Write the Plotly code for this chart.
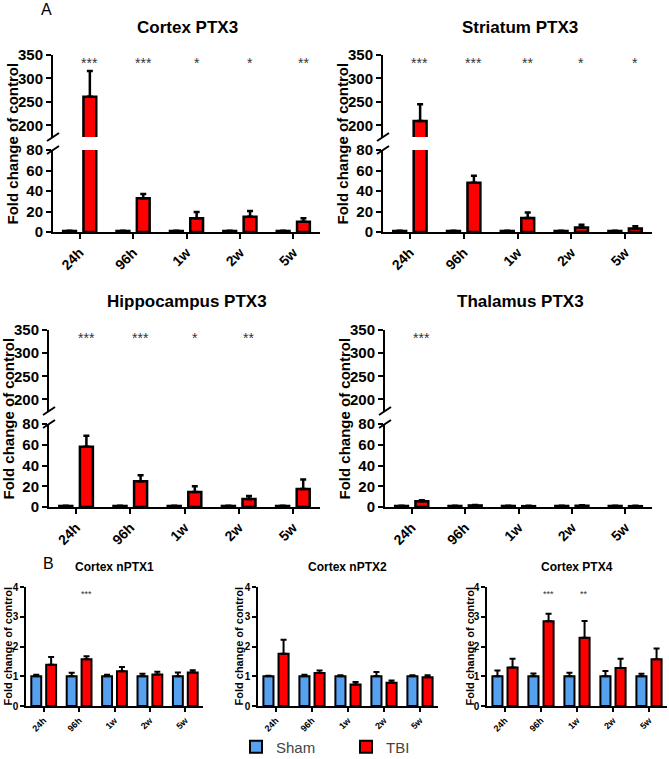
import plotly.graph_objects as go

W, H = 669, 759

TIMEPOINTS = ["24h", "96h", "1w", "2w", "5w"]

# panel A: PTX3 fold change (broken y axis), TBI mean + upper SEM
CORTEX_PTX3_SHAM = [1.0, 1.0, 1.0, 1.0, 1.0]
CORTEX_PTX3_TBI = [261, 33, 13.5, 15, 10]
CORTEX_PTX3_TBI_ERR = [55, 4, 6, 5.5, 3.3]
CORTEX_PTX3_STARS = ["***", "***", "*", "*", "**"]

STRIATUM_PTX3_SHAM = [1.0, 1.0, 1.0, 1.0, 1.0]
STRIATUM_PTX3_TBI = [209, 48, 13.6, 4.5, 3.5]
STRIATUM_PTX3_TBI_ERR = [36, 7, 5.4, 2.5, 2]
STRIATUM_PTX3_STARS = ["***", "***", "**", "*", "*"]

HIPPOCAMPUS_PTX3_SHAM = [1.0, 1.0, 1.0, 1.0, 1.0]
HIPPOCAMPUS_PTX3_TBI = [58, 24.8, 14.5, 7.7, 17.4]
HIPPOCAMPUS_PTX3_TBI_ERR = [10.7, 5.8, 5.5, 2.9, 9.1]
HIPPOCAMPUS_PTX3_STARS = ["***", "***", "*", "**", ""]

THALAMUS_PTX3_SHAM = [1.0, 1.0, 1.0, 1.0, 1.0]
THALAMUS_PTX3_TBI = [5.5, 1.5, 0.8, 1.2, 0.8]
THALAMUS_PTX3_TBI_ERR = [1.0, 0.5, 0.3, 0.6, 0.3]
THALAMUS_PTX3_STARS = ["***", "", "", "", ""]

# panel B: cortex nPTX1 / nPTX2 / PTX4
NPTX1_SHAM = [1.0, 1.0, 1.0, 1.0, 1.0]
NPTX1_SHAM_ERR = [0.05, 0.12, 0.05, 0.08, 0.13]
NPTX1_TBI = [1.39, 1.57, 1.17, 1.06, 1.13]
NPTX1_TBI_ERR = [0.26, 0.10, 0.14, 0.09, 0.07]
NPTX1_STARS = ["", "***", "", "", ""]

NPTX2_SHAM = [1.0, 1.0, 1.0, 1.0, 1.0]
NPTX2_SHAM_ERR = [0.02, 0.05, 0.03, 0.14, 0.03]
NPTX2_TBI = [1.76, 1.11, 0.72, 0.78, 0.97]
NPTX2_TBI_ERR = [0.47, 0.08, 0.09, 0.08, 0.06]
NPTX2_STARS = ["", "", "", "", ""]

PTX4_SHAM = [1.0, 1.0, 1.0, 1.0, 1.0]
PTX4_SHAM_ERR = [0.19, 0.09, 0.12, 0.18, 0.08]
PTX4_TBI = [1.29, 2.85, 2.29, 1.28, 1.57]
PTX4_TBI_ERR = [0.30, 0.25, 0.57, 0.31, 0.36]
PTX4_STARS = ["", "***", "**", "", ""]

SHAM_COLOR = "#55a0ef"
TBI_COLOR = "#ff0000"
FONT = "Liberation Sans"

BROKEN_PANELS = [
    ("Cortex PTX3", CORTEX_PTX3_SHAM, CORTEX_PTX3_TBI, CORTEX_PTX3_TBI_ERR, CORTEX_PTX3_STARS),
    ("Striatum PTX3", STRIATUM_PTX3_SHAM, STRIATUM_PTX3_TBI, STRIATUM_PTX3_TBI_ERR, STRIATUM_PTX3_STARS),
    ("Hippocampus PTX3", HIPPOCAMPUS_PTX3_SHAM, HIPPOCAMPUS_PTX3_TBI, HIPPOCAMPUS_PTX3_TBI_ERR, HIPPOCAMPUS_PTX3_STARS),
    ("Thalamus PTX3", THALAMUS_PTX3_SHAM, THALAMUS_PTX3_TBI, THALAMUS_PTX3_TBI_ERR, THALAMUS_PTX3_STARS),
]
# pixel geometry: (x left, x right), (upper top, upper bottom, lower top, lower bottom), title centre
BROKEN_GEOM = [
    ((53, 320), (55, 137, 150, 232), (187, 27)),
    ((383, 652), (55, 137, 150, 232), (520, 27)),
    ((49, 320), (330, 411, 424, 507), (187, 301)),
    ((385, 652), (330, 411, 424, 507), (520, 301)),
]

SMALL_PANELS = [
    ("Cortex nPTX1", NPTX1_SHAM, NPTX1_SHAM_ERR, NPTX1_TBI, NPTX1_TBI_ERR, NPTX1_STARS),
    ("Cortex nPTX2", NPTX2_SHAM, NPTX2_SHAM_ERR, NPTX2_TBI, NPTX2_TBI_ERR, NPTX2_STARS),
    ("Cortex PTX4", PTX4_SHAM, PTX4_SHAM_ERR, PTX4_TBI, PTX4_TBI_ERR, PTX4_STARS),
]
SMALL_GEOM = [
    ((26, 203), (587, 706), (114, 567), 7),
    ((258, 438), (587, 706), (347, 567), 238),
    ((487, 667), (587, 706), (577, 567), 469),
]


def fx(px):
    return px / W


def fy(py):
    return 1 - py / H


def akey(prefix, n):
    return f"{prefix}axis" if n == 1 else f"{prefix}axis{n}"


def aref(prefix, n):
    return prefix if n == 1 else f"{prefix}{n}"


def label(px, py, text, size, weight="bold", angle=0, color="black"):
    return dict(
        x=fx(px), y=fy(py), xref="paper", yref="paper", text=text,
        xanchor="center", yanchor="middle", textangle=angle, showarrow=False,
        font=dict(family=FONT, size=size, color=color, weight=weight),
    )


def bar(name, y, err, color, xa, ya, offset, width, line_w, showlegend=False):
    return go.Bar(
        x=TIMEPOINTS,
        y=y,
        name=name,
        xaxis=xa,
        yaxis=ya,
        offset=offset,
        width=width,
        marker=dict(color=color, line=dict(color="black", width=line_w)),
        error_y=dict(
            type="data",
            array=err,
            arrayminus=[0] * len(err),
            symmetric=False,
            color="black",
            thickness=line_w,
            width=3,
        ),
        showlegend=showlegend,
        legendgroup=name,
    )


fig = go.Figure()
layout = {}
annotations = []
shapes = []

axis_line = dict(
    showline=True, linecolor="black", linewidth=2, ticks="outside",
    tickcolor="black", tickwidth=2, showgrid=False, zeroline=False,
)

for k, (title, sham, tbi, tbi_err, stars) in enumerate(BROKEN_PANELS):
    (x0, x1), (ut, ub, lt, lb), (tx, ty) = BROKEN_GEOM[k]
    xn, yl, yu = k + 1, 2 * k + 1, 2 * k + 2
    xa, yla, yua = aref("x", xn), aref("y", yl), aref("y", yu)

    layout[akey("x", xn)] = dict(
        axis_line, domain=[fx(x0), fx(x1)], anchor=yla, type="category",
        range=[-0.5, 4.5], ticklen=5, tickangle=-45,
        tickfont=dict(family=FONT, size=14, color="black", weight="bold"),
    )
    layout[akey("y", yl)] = dict(
        axis_line, domain=[fy(lb), fy(lt)], anchor=xa, range=[0, 80],
        tickvals=[0, 20, 40, 60, 80], ticklen=5,
        tickfont=dict(family=FONT, size=15, color="black", weight="bold"),
    )
    layout[akey("y", yu)] = dict(
        axis_line, domain=[fy(ub), fy(ut)], anchor=xa, range=[175, 350],
        tickvals=[200, 250, 300, 350], ticklen=5,
        tickfont=dict(family=FONT, size=15, color="black", weight="bold"),
    )

    sham_err = [0.2] * len(sham)
    for ya in (yla, yua):
        fig.add_trace(bar("Sham", sham, sham_err, SHAM_COLOR, xa, ya, -0.31, 0.24, 2.5))
        fig.add_trace(bar("TBI", tbi, tbi_err, TBI_COLOR, xa, ya, 0.07, 0.24, 2.5))

    for cat, s in zip(TIMEPOINTS, stars):
        if s:
            annotations.append(dict(
                x=cat, y=333, xref=xa, yref=yua, text=s, showarrow=False,
                xshift=10, yanchor="middle",
                font=dict(family=FONT, size=14, color="#333"),
            ))

    annotations.append(label(tx, ty, title, 17))
    annotations.append(label(x0 - 41, (ut + lb) / 2, "Fold change of control", 15, angle=-90))

    # axis break marks
    for yref_, anchor in ((yua, 0), (yla, 1)):
        shapes.append(dict(
            type="line", xref=f"{xa} domain", yref=f"{yref_} domain",
            xsizemode="pixel", xanchor=0, x0=-6, x1=6,
            ysizemode="pixel", yanchor=anchor, y0=-4, y1=4,
            line=dict(color="black", width=2),
        ))

for m, (title, sham, sham_err, tbi, tbi_err, stars) in enumerate(SMALL_PANELS):
    (x0, x1), (yt, yb), (tx, ty), ytitle_x = SMALL_GEOM[m]
    xn, yn = 5 + m, 9 + m
    xa, ya = aref("x", xn), aref("y", yn)

    layout[akey("x", xn)] = dict(
        axis_line, domain=[fx(x0), fx(x1)], anchor=ya, type="category",
        range=[-0.5, 4.5], ticklen=4, linewidth=1.5, tickwidth=1.5, tickangle=-45,
        tickfont=dict(family=FONT, size=9, color="black", weight="bold"),
    )
    layout[akey("y", yn)] = dict(
        axis_line, domain=[fy(yb), fy(yt)], anchor=xa, range=[0, 4],
        tickvals=[0, 1, 2, 3, 4], ticklen=4, linewidth=1.5, tickwidth=1.5,
        tickfont=dict(family=FONT, size=10, color="black", weight="bold"),
    )

    fig.add_trace(bar("Sham", sham, sham_err, SHAM_COLOR, xa, ya, -0.35, 0.28, 2, m == 0))
    fig.add_trace(bar("TBI", tbi, tbi_err, TBI_COLOR, xa, ya, 0.07, 0.28, 2, m == 0))

    for cat, s in zip(TIMEPOINTS, stars):
        if s:
            annotations.append(dict(
                x=cat, y=3.75, xref=xa, yref=ya, text=s, showarrow=False,
                xshift=7, yanchor="middle",
                font=dict(family=FONT, size=9, color="#333"),
            ))

    annotations.append(label(tx, ty, title, 12))
    annotations.append(label(ytitle_x, (yt + yb) / 2, "Fold change of control", 11, angle=-90))

annotations.append(label(46, 10, "A", 16, weight="normal"))
annotations.append(label(48, 563, "B", 16, weight="normal"))

fig.update_layout(
    **layout,
    width=W,
    height=H,
    autosize=False,
    margin=dict(l=0, r=0, t=0, b=0, autoexpand=False),
    paper_bgcolor="white",
    plot_bgcolor="white",
    barmode="overlay",
    annotations=annotations,
    shapes=shapes,
    legend=dict(
        orientation="h", x=fx(236), y=fy(747), xanchor="left", yanchor="middle",
        font=dict(family=FONT, size=15, color="#444"),
        entrywidth=65, bgcolor="rgba(0,0,0,0)",
    ),
    showlegend=True,
)

fig.write_html(
    "out.html",
    config={"displayModeBar": False},
    post_script="document.body.style.margin = '0';",
)
